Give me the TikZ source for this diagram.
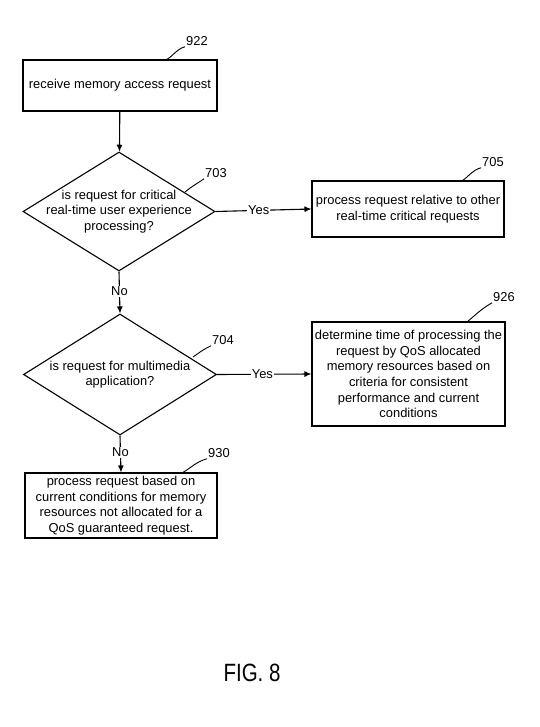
\documentclass[tikz,border=0pt]{standalone}
\usepackage{fontspec}
\setmainfont{Liberation Sans}
\usetikzlibrary{shapes.geometric,arrows.meta}

\tikzset{
  stepbox/.style={draw,line width=1.1pt,rectangle,align=center,inner sep=2pt},
  decide/.style={draw,line width=1.1pt,diamond,inner sep=0pt},
  flow/.style={line width=1.1pt,-{Latex[length=7pt,width=6pt]}},
  refnum/.style={inner sep=1pt},
  leader/.style={line width=0.9pt}
}

\begin{document}
\begin{tikzpicture}[x=1pt,y=-1pt,font=\fontsize{12.9}{15.6}\selectfont]
	\useasboundingbox (0,0) rectangle (539,727);
	
	% boxes
	\node[stepbox,minimum width=194pt,minimum height=51pt] (b922) at (120,85.5) {receive memory access request};
	\node[decide,minimum width=192pt,minimum height=119pt,
	  label={[align=center]center:is request for critical\\real-time user experience\\processing?}] (d703) at (119,211.5) {};
	\node[stepbox,minimum width=192pt,minimum height=56pt] (b705) at (408,209) {process request relative to other\\real-time critical requests};
	\node[decide,minimum width=193pt,minimum height=121pt,
	  label={[align=center]center:is request for multimedia\\application?}] (d704) at (120,374.5) {};
	\node[stepbox,minimum width=193pt,minimum height=104pt] (b926) at (408.5,374) {determine time of processing the\\request by QoS allocated\\memory resources based on\\criteria for consistent\\performance and current\\conditions};
	\node[stepbox,minimum width=192pt,minimum height=65pt] (b930) at (121,505.5) {process request based on\\current conditions for memory\\resources not allocated for a\\QoS guaranteed request.};
	
	% reference numbers
	\node[refnum] (n922) at (197,41) {922};
	\node[refnum] (n703) at (216,173) {703};
	\node[refnum] (n705) at (493,162) {705};
	\node[refnum] (n704) at (223,340) {704};
	\node[refnum] (n926) at (504,297) {926};
	\node[refnum] (n930) at (219,453) {930};
	\draw[leader] (166,60) to[out=30,in=195] (n922.south west);
	\draw[leader] (185,192) to[out=40,in=215] (n703.south west);
	\draw[leader] (462,181) to[out=35,in=195] (n705.south west);
	\draw[leader] (193,357) to[out=35,in=205] (n704.south west);
	\draw[leader] (467,322) to[out=40,in=210] (n926.south west);
	\draw[leader] (182,473) to[out=30,in=195] (n930.south west);
	
	% connectors
	\draw[flow] (b922) -- (d703);
	\draw[flow] (d703.east) -- node[fill=white,inner sep=1pt,pos=0.45] {Yes} (b705.west);
	\draw[flow] (d703.south) -- node[fill=white,inner sep=1pt,pos=0.47] {No} (d704.north);
	\draw[flow] (d704.east) -- node[fill=white,inner sep=1pt,pos=0.48] {Yes} (b926.west);
	\draw[flow] (d704.south) -- node[fill=white,inner sep=1pt,pos=0.45] {No} (b930.north);
	
	\node (fig) at (252,673) {\fontsize{25}{30}\selectfont\scalebox{0.82}[1]{FIG. 8}};
\end{tikzpicture}
\end{document}
